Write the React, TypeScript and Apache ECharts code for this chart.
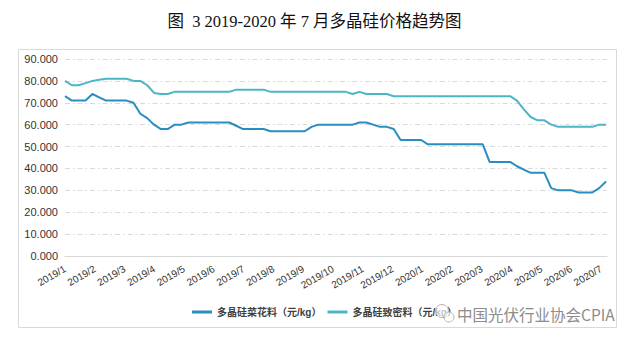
import React, { useEffect, useRef } from "react";
import * as echarts from "echarts";

const titleText = "图  3 2019-2020 年 7 月多晶硅价格趋势图";
const monthLabels = [
  "2019/1", "2019/2", "2019/3", "2019/4", "2019/5", "2019/6", "2019/7", "2019/8", "2019/9", "2019/10",
  "2019/11", "2019/12", "2020/1", "2020/2", "2020/3", "2020/4", "2020/5", "2020/6", "2020/7",
];
const seriesNames = ["多晶硅菜花料（元/kg）", "多晶硅致密料（元/kg）"];
// weekly prices, starting first week of Jan 2019
const caihua = [
  73, 71, 71, 71, 74, 72.5, 71, 71, 71, 71,
  70, 65, 63, 60, 58, 58, 60, 60, 61, 61,
  61, 61, 61, 61, 61, 59.5, 58, 58, 58, 58,
  57, 57, 57, 57, 57, 57, 59, 60, 60, 60,
  60, 60, 60, 61, 61, 60, 59, 59, 58, 53,
  53, 53, 53, 51, 51, 51, 51, 51, 51, 51,
  51, 51, 43, 43, 43, 43, 41, 39.5, 38, 38,
  38, 31, 30, 30, 30, 29, 29, 29, 31, 34,
];
const zhimi = [
  80, 78, 78, 79, 80, 80.5, 81, 81, 81, 81,
  80, 80, 78, 74.5, 74, 74, 75, 75, 75, 75,
  75, 75, 75, 75, 75, 76, 76, 76, 76, 76,
  75, 75, 75, 75, 75, 75, 75, 75, 75, 75,
  75, 75, 74, 75, 74, 74, 74, 74, 73, 73,
  73, 73, 73, 73, 73, 73, 73, 73, 73, 73,
  73, 73, 73, 73, 73, 73, 71, 67, 63.5, 62,
  62, 60, 59, 59, 59, 59, 59, 59, 60, 60,
];
const watermark = "中国光伏行业协会CPIA";

const WEEK_IN_MONTHS = 7 / 30.44;
const toPairs = (arr: number[]) => arr.map((v, i) => [i * WEEK_IN_MONTHS, v]);

export default function App() {
  const ref = useRef<HTMLDivElement>(null);
  useEffect(() => {
    if (!ref.current) return;
    const chart = echarts.init(ref.current, undefined, { renderer: "svg" });
    const sans = "Liberation Sans, Arial, 'Noto Sans CJK SC', sans-serif";
    chart.setOption({
      animation: false,
      backgroundColor: "#ffffff",
      title: {
        text: titleText,
        left: "center",
        top: 8,
        textStyle: {
          fontFamily: "'Liberation Serif', 'Times New Roman', 'Noto Sans CJK SC', serif",
          fontSize: 16.5,
          fontWeight: "normal",
          color: "#111",
        },
      },
      graphic: [
        {
          type: "rect",
          shape: { x: 18.5, y: 49.5, width: 598, height: 278 },
          style: { fill: "none", stroke: "#d9d9d9", lineWidth: 1 },
          silent: true,
          z: -1,
        },
        {
          type: "circle",
          shape: { cx: 442, cy: 311, r: 6.5 },
          style: { fill: "rgba(255,255,255,0.7)", stroke: "#b5b5b5", lineWidth: 1 },
          z: 10,
        },
        {
          type: "circle",
          shape: { cx: 449, cy: 317, r: 5 },
          style: { fill: "rgba(255,255,255,0.7)", stroke: "#b5b5b5", lineWidth: 1 },
          z: 10,
        },
        {
          type: "text",
          x: 457,
          y: 314,
          style: {
            text: watermark,
            fill: "#8c8c8c",
            font: "15.5px 'Noto Sans CJK SC', sans-serif",
            textVerticalAlign: "middle",
          },
          z: 10,
        },
      ],
      grid: { left: 65, right: 22, top: 59, bottom: 85, containLabel: false },
      legend: {
        left: 192,
        top: 307,
        padding: 0,
        itemGap: 6,
        itemWidth: 20,
        itemHeight: 3,
        icon: "rect",
        textStyle: { fontFamily: sans, fontSize: 10, fontWeight: "bold", color: "#404040" },
        data: seriesNames,
      },
      xAxis: {
        type: "value",
        min: 0,
        max: 18.2,
        interval: 1,
        axisLine: { show: true, lineStyle: { color: "#d9d9d9", width: 1 } },
        axisTick: { show: false },
        splitLine: { show: false },
        axisLabel: {
          rotate: 30,
          margin: 12,
          fontFamily: sans,
          fontSize: 10,
          color: "#333",
          showMaxLabel: false,
          formatter: (v: number) => {
            const r = Math.round(v);
            return Math.abs(v - r) < 1e-6 && monthLabels[r] ? monthLabels[r] : "";
          },
        },
      },
      yAxis: {
        type: "value",
        min: 0,
        max: 90,
        interval: 10,
        axisLine: { show: false },
        axisTick: { show: false },
        axisLabel: {
          fontFamily: sans,
          fontSize: 11,
          color: "#333",
          margin: 7,
          formatter: (v: number) => v.toFixed(3),
        },
        splitLine: {
          lineStyle: { color: "#d9d9d9", width: 1, type: [5, 3, 1.5, 3] },
        },
      },
      series: [
        {
          name: seriesNames[0],
          type: "line",
          data: toPairs(caihua),
          symbol: "none",
          lineStyle: { color: "#2a8dbf", width: 2 },
          itemStyle: { color: "#2a8dbf" },
        },
        {
          name: seriesNames[1],
          type: "line",
          data: toPairs(zhimi),
          symbol: "none",
          lineStyle: { color: "#4cb6c6", width: 2 },
          itemStyle: { color: "#4cb6c6" },
        },
      ],
    });
    return () => chart.dispose();
  }, []);
  return (
    <div
      ref={ref}
      style={{ position: "fixed", left: 0, top: 0, width: 629, height: 341 }}
    />
  );
}
